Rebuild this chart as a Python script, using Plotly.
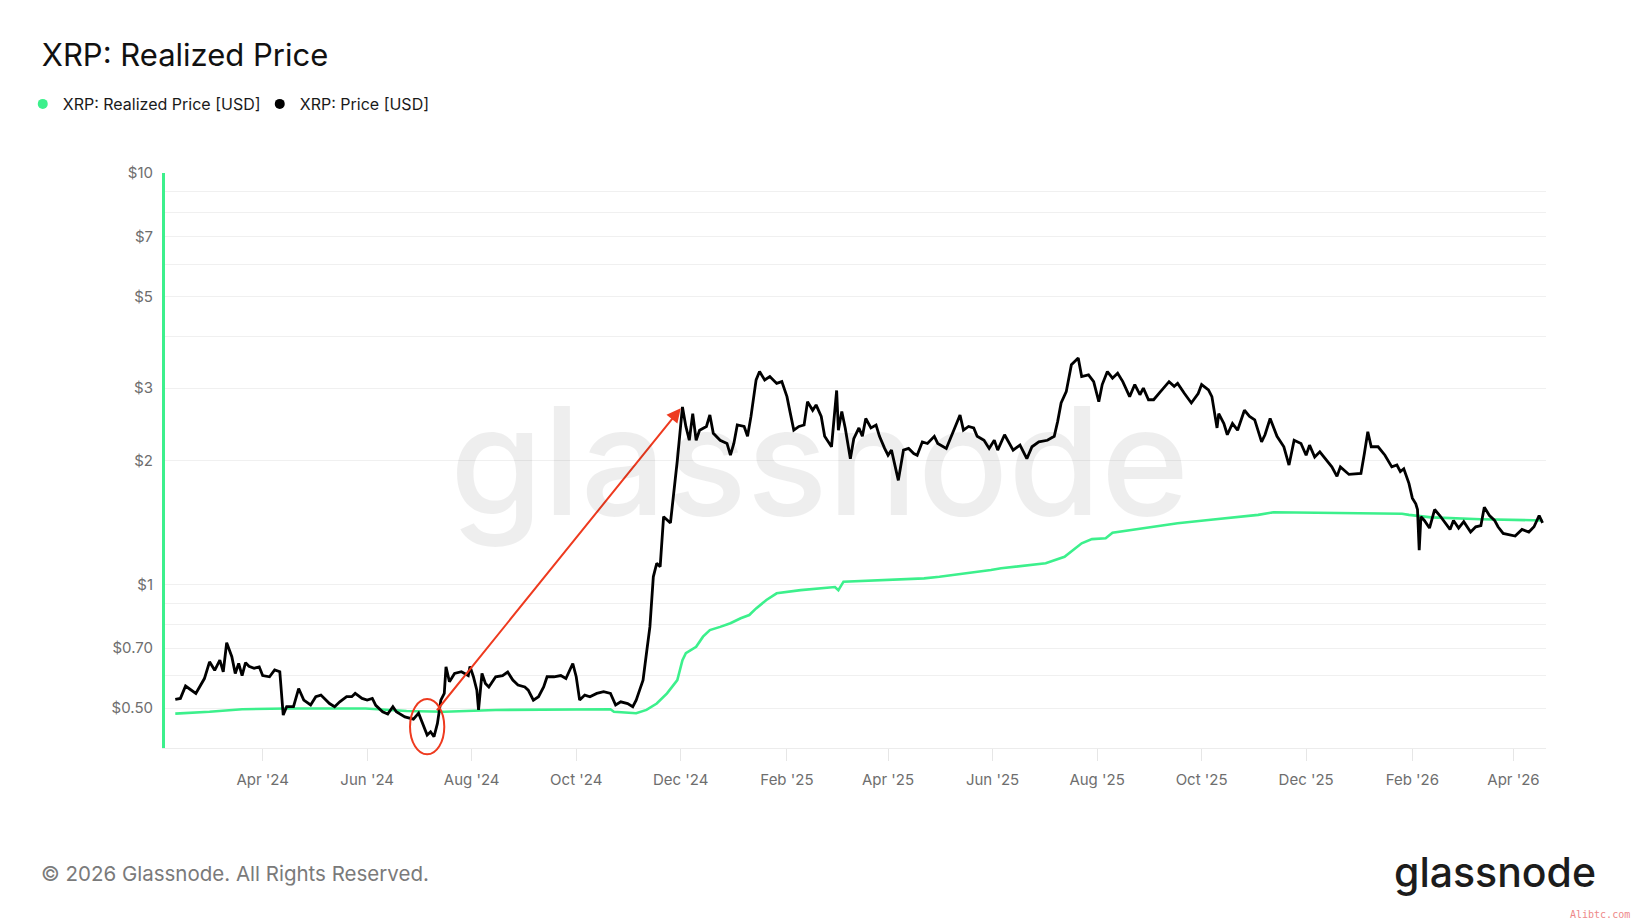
import math

import plotly.graph_objects as go

# XRP price
price_dates = [
    "2024-02-10", "2024-02-13", "2024-02-16", "2024-02-18", "2024-02-22", "2024-02-27",
    "2024-03-01", "2024-03-04", "2024-03-07", "2024-03-09", "2024-03-11", "2024-03-14", "2024-03-16", "2024-03-18", "2024-03-20", "2024-03-22", "2024-03-24", "2024-03-27", "2024-03-30",
    "2024-04-01", "2024-04-05", "2024-04-08", "2024-04-11", "2024-04-13", "2024-04-15", "2024-04-19", "2024-04-22", "2024-04-25", "2024-04-29",
    "2024-05-02", "2024-05-05", "2024-05-10", "2024-05-13", "2024-05-16", "2024-05-20", "2024-05-23", "2024-05-25", "2024-05-29",
    "2024-06-01", "2024-06-04", "2024-06-06", "2024-06-10", "2024-06-13", "2024-06-16", "2024-06-18", "2024-06-23", "2024-06-28",
    "2024-07-01", "2024-07-04", "2024-07-06", "2024-07-08", "2024-07-10", "2024-07-12", "2024-07-14", "2024-07-16", "2024-07-17", "2024-07-19", "2024-07-22", "2024-07-26", "2024-07-30", "2024-07-31",
    "2024-08-02", "2024-08-04", "2024-08-05", "2024-08-07", "2024-08-09", "2024-08-11", "2024-08-15", "2024-08-19", "2024-08-22", "2024-08-25", "2024-08-28",
    "2024-09-01", "2024-09-03", "2024-09-06", "2024-09-09", "2024-09-12", "2024-09-14", "2024-09-18", "2024-09-22", "2024-09-25", "2024-09-29",
    "2024-10-01", "2024-10-03", "2024-10-06", "2024-10-09", "2024-10-13", "2024-10-17", "2024-10-21", "2024-10-24", "2024-10-27", "2024-10-31",
    "2024-11-03", "2024-11-05", "2024-11-07", "2024-11-09", "2024-11-11", "2024-11-13", "2024-11-15", "2024-11-17", "2024-11-19", "2024-11-21", "2024-11-25", "2024-11-27", "2024-11-29",
    "2024-12-02", "2024-12-04", "2024-12-06", "2024-12-08", "2024-12-10", "2024-12-12", "2024-12-16", "2024-12-18", "2024-12-20", "2024-12-24", "2024-12-28", "2024-12-30",
    "2025-01-01", "2025-01-03", "2025-01-07", "2025-01-09", "2025-01-11", "2025-01-14", "2025-01-16", "2025-01-19", "2025-01-22", "2025-01-26", "2025-01-29",
    "2025-02-01", "2025-02-03", "2025-02-05", "2025-02-08", "2025-02-11", "2025-02-13", "2025-02-16", "2025-02-18", "2025-02-21", "2025-02-23", "2025-02-27",
    "2025-03-02", "2025-03-03", "2025-03-05", "2025-03-07", "2025-03-10", "2025-03-12", "2025-03-15", "2025-03-17", "2025-03-19", "2025-03-22", "2025-03-25", "2025-03-27", "2025-03-30",
    "2025-04-01", "2025-04-03", "2025-04-05", "2025-04-07", "2025-04-10", "2025-04-13", "2025-04-16", "2025-04-18", "2025-04-21", "2025-04-24", "2025-04-28", "2025-04-30",
    "2025-05-05", "2025-05-08", "2025-05-10", "2025-05-13", "2025-05-15", "2025-05-18", "2025-05-21", "2025-05-23", "2025-05-27", "2025-05-30",
    "2025-06-02", "2025-06-04", "2025-06-08", "2025-06-11", "2025-06-13", "2025-06-17", "2025-06-21", "2025-06-24", "2025-06-28",
    "2025-07-03", "2025-07-07", "2025-07-09", "2025-07-11", "2025-07-14", "2025-07-17", "2025-07-21", "2025-07-23", "2025-07-27", "2025-07-30",
    "2025-08-02", "2025-08-04", "2025-08-07", "2025-08-10", "2025-08-13", "2025-08-16", "2025-08-20", "2025-08-23", "2025-08-26", "2025-08-28", "2025-08-31",
    "2025-09-03", "2025-09-07", "2025-09-12", "2025-09-15", "2025-09-17", "2025-09-21", "2025-09-25", "2025-09-29",
    "2025-10-01", "2025-10-05", "2025-10-07", "2025-10-10", "2025-10-11", "2025-10-14", "2025-10-16", "2025-10-19", "2025-10-22", "2025-10-26", "2025-10-29",
    "2025-11-01", "2025-11-03", "2025-11-05", "2025-11-07", "2025-11-10", "2025-11-14", "2025-11-18", "2025-11-21", "2025-11-24", "2025-11-28",
    "2025-12-01", "2025-12-03", "2025-12-06", "2025-12-09", "2025-12-12", "2025-12-16", "2025-12-19", "2025-12-21", "2025-12-26", "2025-12-30",
    "2026-01-02", "2026-01-04", "2026-01-06", "2026-01-08", "2026-01-12", "2026-01-16", "2026-01-19", "2026-01-20", "2026-01-23", "2026-01-25", "2026-01-27", "2026-01-30",
    "2026-02-01", "2026-02-03", "2026-02-04", "2026-02-05", "2026-02-06", "2026-02-08", "2026-02-11", "2026-02-14", "2026-02-17", "2026-02-20", "2026-02-23", "2026-02-25", "2026-02-28",
    "2026-03-03", "2026-03-07", "2026-03-10", "2026-03-13", "2026-03-15", "2026-03-18", "2026-03-21", "2026-03-23", "2026-03-26", "2026-03-30",
    "2026-04-02", "2026-04-06", "2026-04-10", "2026-04-13", "2026-04-16", "2026-04-18",
]
price_values = [
    0.525, 0.528, 0.566, 0.558, 0.543, 0.59,
    0.648, 0.618, 0.654, 0.613, 0.721, 0.667, 0.607, 0.642, 0.60, 0.645, 0.632, 0.625, 0.63,
    0.60, 0.596, 0.619, 0.613, 0.481, 0.504, 0.504, 0.558, 0.523, 0.509,
    0.533, 0.538, 0.513, 0.504, 0.518, 0.533, 0.533, 0.543, 0.528,
    0.523, 0.528, 0.508, 0.49, 0.484, 0.504, 0.49, 0.476, 0.47,
    0.486, 0.454, 0.43, 0.438, 0.426, 0.459, 0.523, 0.543, 0.63, 0.58, 0.607, 0.613, 0.60, 0.631,
    0.596, 0.553, 0.495, 0.607, 0.574, 0.563, 0.596, 0.60, 0.612, 0.585, 0.569,
    0.563, 0.553, 0.523, 0.533, 0.563, 0.596, 0.596, 0.60, 0.59, 0.642,
    0.596, 0.523, 0.538, 0.533, 0.543, 0.548, 0.543, 0.509, 0.518, 0.513,
    0.504, 0.523, 0.553, 0.585, 0.68, 0.788, 1.043, 1.125, 1.104, 1.46, 1.41, 1.665, 2.0,
    2.70, 2.42, 2.24, 2.60, 2.24, 2.37, 2.42, 2.58, 2.33, 2.24, 2.20, 2.06,
    2.20, 2.44, 2.42, 2.29, 2.56, 3.14, 3.29, 3.14, 3.20, 3.08, 3.11,
    2.86, 2.60, 2.37, 2.42, 2.44, 2.78, 2.65, 2.73, 2.56, 2.29, 2.16,
    2.96, 2.37, 2.63, 2.40, 2.02, 2.26, 2.40, 2.29, 2.53, 2.40, 2.44, 2.29, 2.14,
    2.06, 2.12, 1.93, 1.79, 2.12, 2.14, 2.08, 2.06, 2.22, 2.20, 2.29, 2.20,
    2.14, 2.29, 2.42, 2.58, 2.37, 2.42, 2.40, 2.29, 2.24, 2.14,
    2.24, 2.12, 2.31, 2.20, 2.12, 2.18, 2.02, 2.16, 2.22,
    2.24, 2.29, 2.49, 2.76, 2.94, 3.42, 3.55, 3.20, 3.23, 3.11,
    2.78, 3.06, 3.29, 3.17, 3.26, 3.11, 2.86, 3.06, 2.89, 3.0, 2.81,
    2.81, 2.94, 3.11, 3.03, 3.08, 2.91, 2.76, 2.91,
    3.06, 2.97, 2.86, 2.40, 2.60, 2.46, 2.31, 2.46, 2.37, 2.65, 2.56,
    2.51, 2.37, 2.22, 2.31, 2.53, 2.29, 2.16, 1.95, 2.24, 2.20,
    2.06, 2.18, 2.04, 2.10, 2.02, 1.93, 1.83, 1.93, 1.85, 1.86,
    1.86, 2.08, 2.35, 2.16, 2.16, 2.06, 1.95, 1.93, 1.95, 1.88, 1.91, 1.76,
    1.62, 1.57, 1.52, 1.21, 1.46, 1.43, 1.37, 1.52, 1.47, 1.41, 1.36, 1.43, 1.37,
    1.42, 1.34, 1.38, 1.39, 1.54, 1.47, 1.43, 1.38, 1.33, 1.32,
    1.31, 1.36, 1.34, 1.38, 1.47, 1.41,
]

# XRP realized price
realized_dates = [
    "2024-02-10", "2024-03-01", "2024-03-20", "2024-04-15", "2024-05-31", "2024-06-24",
    "2024-07-16", "2024-08-15", "2024-10-21", "2024-10-23", "2024-11-05", "2024-11-11",
    "2024-11-17", "2024-11-23", "2024-11-29", "2024-12-02", "2024-12-04", "2024-12-10",
    "2024-12-14", "2024-12-18", "2024-12-24", "2024-12-30", "2025-01-05", "2025-01-10",
    "2025-01-14", "2025-01-20", "2025-01-26", "2025-02-01", "2025-02-09", "2025-03-01",
    "2025-03-03", "2025-03-06", "2025-04-01", "2025-04-22", "2025-05-01", "2025-05-15",
    "2025-05-31", "2025-06-06", "2025-07-02", "2025-07-13", "2025-07-23", "2025-07-29",
    "2025-08-06", "2025-08-10", "2025-08-28", "2025-09-17", "2025-10-05", "2025-10-24",
    "2025-11-03", "2025-11-12", "2025-12-02", "2025-12-31", "2026-01-26", "2026-01-30",
    "2026-02-12", "2026-03-13", "2026-04-18",
]
realized_values = [
    0.485, 0.490, 0.497, 0.499, 0.499, 0.492,
    0.490, 0.495, 0.497, 0.490, 0.486, 0.495,
    0.513, 0.543, 0.585, 0.654, 0.68, 0.705,
    0.746, 0.774, 0.788, 0.804, 0.827, 0.842,
    0.874, 0.916, 0.951, 0.959, 0.968, 0.985,
    0.968, 1.015, 1.024, 1.034, 1.043, 1.06,
    1.083, 1.094, 1.125, 1.167, 1.258, 1.288,
    1.294, 1.335, 1.368, 1.407, 1.434, 1.46,
    1.475, 1.497, 1.494, 1.488, 1.485, 1.475,
    1.455, 1.44, 1.43,
]

grid_values = [0.4, 0.5, 0.6, 0.7, 0.8, 0.9, 1, 2, 3, 4, 5, 6, 7, 8, 9, 10]
tick_labels = {0.5: "$0.50", 0.7: "$0.70", 1: "$1", 2: "$2", 3: "$3", 5: "$5", 7: "$7", 10: "$10"}

# red markup: circle round the July 2024 low, arrow up to the December 2024 top
circle_dates = ["2024-06-26", "2024-07-16"]
circle_prices = [0.386, 0.526]
arrow_from = ("2024-07-11", 0.49)
arrow_to = ("2024-12-01", 2.68)

GREEN = "#3cf08c"
RED = "#ee3a1f"
FONT = "Inter"
Y_MIN, Y_MAX = 0.4, 10


def log_to_paper(value):
    # position of a price on the log axis as a fraction of the plot height
    lo, hi = math.log10(Y_MIN), math.log10(Y_MAX)
    return (math.log10(value) - lo) / (hi - lo)


assert len(price_dates) == len(price_values)
assert len(realized_dates) == len(realized_values)

fig = go.Figure()
fig.add_trace(
    go.Scatter(
        x=realized_dates,
        y=realized_values,
        mode="lines",
        line=dict(color=GREEN, width=2.6),
        name="XRP: Realized Price [USD]",
        showlegend=False,
    )
)
fig.add_trace(
    go.Scatter(
        x=price_dates,
        y=price_values,
        mode="lines",
        line=dict(color="#000000", width=2.8),
        name="XRP: Price [USD]",
        showlegend=False,
    )
)
# dot markers for the legend
for name, color in [("XRP: Realized Price [USD]", GREEN), ("XRP: Price [USD]", "#000000")]:
    fig.add_trace(
        go.Scatter(
            x=[None],
            y=[None],
            mode="markers",
            marker=dict(color=color, size=10),
            name=name,
        )
    )

# paper refs on y so the circle is not clipped at the bottom of the plot
fig.add_shape(
    type="circle",
    xref="x",
    yref="paper",
    x0=circle_dates[0],
    x1=circle_dates[1],
    y0=log_to_paper(circle_prices[0]),
    y1=log_to_paper(circle_prices[1]),
    line=dict(color=RED, width=2),
)
fig.add_annotation(
    x=arrow_to[0],
    y=math.log10(arrow_to[1]),
    ax=arrow_from[0],
    ay=math.log10(arrow_from[1]),
    xref="x",
    yref="y",
    axref="x",
    ayref="y",
    text="",
    showarrow=True,
    arrowhead=2,
    arrowsize=1.4,
    arrowwidth=2,
    arrowcolor=RED,
    standoff=0,
    startstandoff=0,
)

# watermark and footer
fig.add_annotation(
    text="glassnode",
    xref="paper",
    yref="paper",
    x=0.4736,
    y=0.50,
    showarrow=False,
    font=dict(family=FONT, size=150, color="rgba(0,0,0,0.065)", weight=500),
)
fig.add_annotation(
    text="© 2026 Glassnode. All Rights Reserved.",
    xref="paper",
    yref="paper",
    x=-0.0915,
    y=-0.2174,
    xanchor="left",
    yanchor="middle",
    showarrow=False,
    font=dict(family=FONT, size=20.5, color="#7a7a7a"),
)
fig.add_annotation(
    text="glassnode",
    xref="paper",
    yref="paper",
    x=1.038,
    y=-0.215,
    xanchor="right",
    yanchor="middle",
    showarrow=False,
    font=dict(family=FONT, size=41, color="#1c1c1c", weight=500),
)
fig.add_annotation(
    text="Alibtc.com",
    xref="paper",
    yref="paper",
    x=1.062,
    y=-0.29,
    xanchor="right",
    yanchor="middle",
    showarrow=False,
    font=dict(family="DejaVu Sans Mono", size=10, color="#ee8888"),
)

fig.update_layout(
    width=1638,
    height=921,
    margin=dict(l=165, r=92, t=173, b=173),
    paper_bgcolor="white",
    plot_bgcolor="white",
    font=dict(family=FONT),
    title=dict(
        text="XRP: Realized Price",
        x=0.0255,
        xref="container",
        xanchor="left",
        y=0.94,
        yref="container",
        yanchor="middle",
        font=dict(family=FONT, size=31, color="#111111"),
    ),
    legend=dict(
        orientation="h",
        x=-0.103,
        xanchor="left",
        y=1.12,
        yanchor="middle",
        font=dict(family=FONT, size=16, color="#1a1a1a"),
        itemwidth=30,
        entrywidth=192,
        bgcolor="rgba(0,0,0,0)",
    ),
    showlegend=True,
)
fig.update_xaxes(
    type="date",
    range=["2024-02-04", "2026-04-20"],
    tick0="2024-04-01",
    dtick="M2",
    tickformat="%b '%y",
    showgrid=False,
    showline=True,
    linecolor="#ececec",
    linewidth=1,
    ticks="outside",
    ticklen=12,
    tickcolor="#e6e6e6",
    ticklabelstandoff=6,
    tickfont=dict(family=FONT, size=15, color="#6e6e6e"),
    zeroline=False,
)
fig.update_yaxes(
    type="log",
    range=[math.log10(Y_MIN), math.log10(Y_MAX)],
    tickvals=grid_values,
    ticktext=[tick_labels.get(v, "") for v in grid_values],
    showgrid=True,
    gridcolor="#f0f0f0",
    gridwidth=1,
    showline=True,
    linecolor=GREEN,
    linewidth=3,
    ticks="",
    ticklabelstandoff=6,
    tickfont=dict(family=FONT, size=15, color="#6e6e6e"),
    zeroline=False,
)

fig.write_html(
    "out.html",
    config={"displayModeBar": False},
    post_script="document.body.style.margin='0';",
)
